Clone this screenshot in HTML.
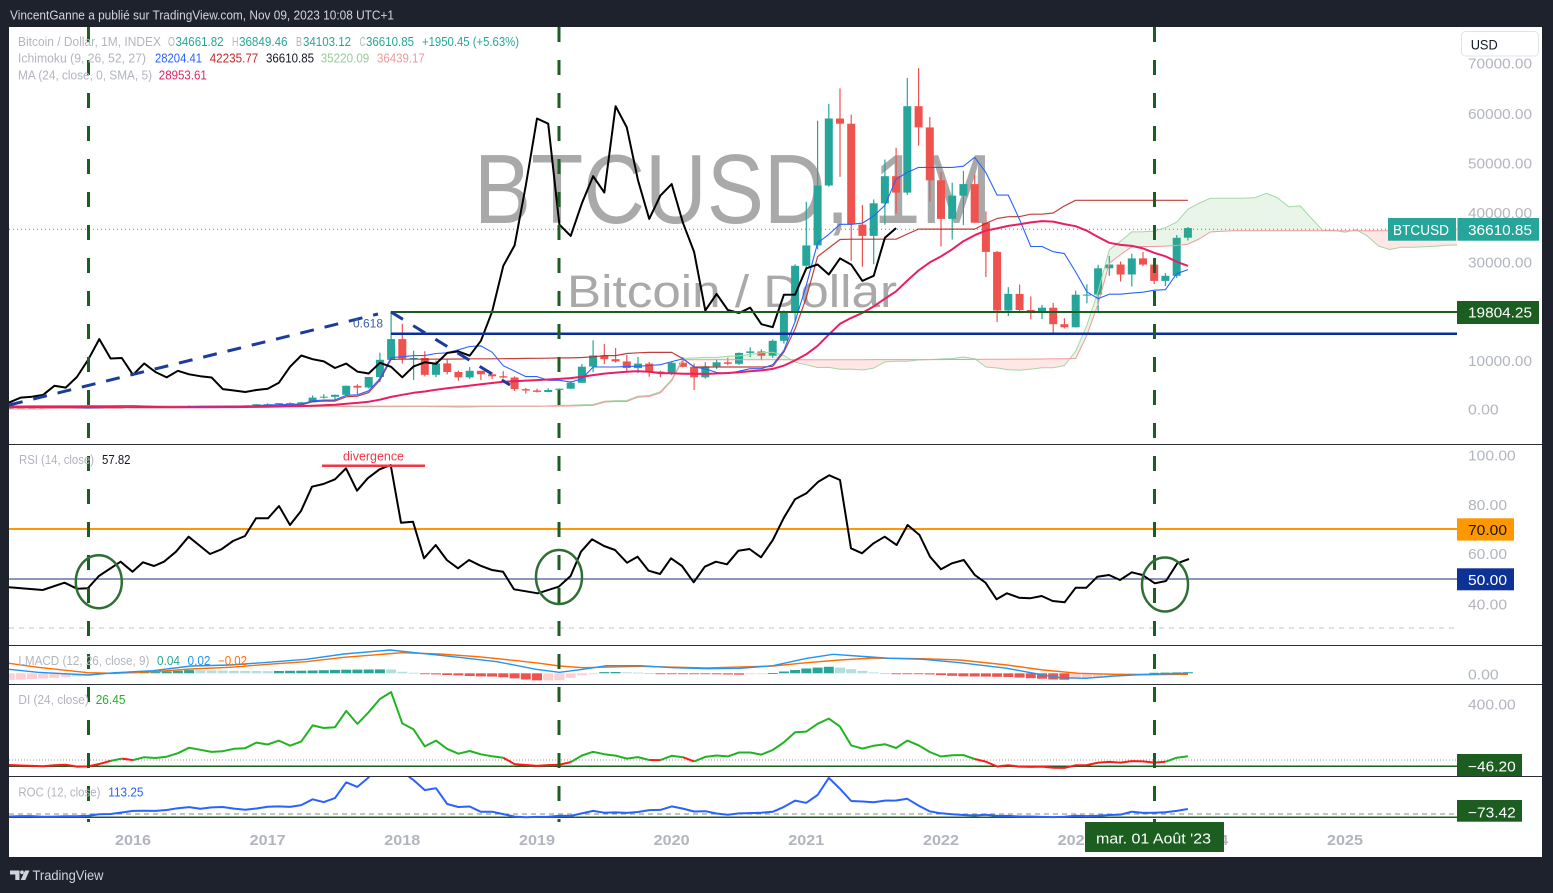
<!DOCTYPE html>
<html><head><meta charset="utf-8"><style>html,body{margin:0;padding:0;background:#1e222d;}svg{display:block;}</style></head>
<body>
<svg id="root" width="1553" height="893" viewBox="0 0 1553 893" xmlns="http://www.w3.org/2000/svg" font-family="'Liberation Sans', Arial, sans-serif">
<defs>
<clipPath id="cp"><rect x="9" y="27" width="1448" height="417"/></clipPath>
<clipPath id="cr"><rect x="9" y="445" width="1448" height="200"/></clipPath>
<clipPath id="cm"><rect x="9" y="646" width="1448" height="38"/></clipPath>
<clipPath id="cd"><rect x="9" y="685" width="1448" height="91"/></clipPath>
<clipPath id="co"><rect x="9" y="777" width="1448" height="45"/></clipPath>
</defs>
<rect width="1553" height="893" fill="#1e222d"/>
<rect x="9" y="27" width="1533" height="830" fill="#ffffff"/>
<text x="10" y="19.3" font-size="13" fill="#d1d4dc" textLength="384" lengthAdjust="spacingAndGlyphs">VincentGanne a publié sur TradingView.com, Nov 09, 2023 10:08 UTC+1</text>

<!-- watermark -->
<text x="474" y="223" font-size="98" fill="#a9a9a9" textLength="518" lengthAdjust="spacingAndGlyphs">BTCUSD, 1M</text>
<text x="567" y="307" font-size="45" fill="#a9a9a9" textLength="330" lengthAdjust="spacingAndGlyphs">Bitcoin / Dollar</text>

<!-- price pane -->
<g clip-path="url(#cp)">
<line x1="9" y1="229.3" x2="1457" y2="229.3" stroke="#26a69a" stroke-width="1" stroke-dasharray="1 3"/>
<g id="pp"></g>
<line x1="391" y1="312" x2="1457" y2="312" stroke="#1b5e20" stroke-width="2"/>
<line x1="391" y1="333.7" x2="1457" y2="333.7" stroke="#0c2d9c" stroke-width="2.5"/>
<line x1="9" y1="405" x2="378" y2="314" stroke="#1a3c9a" stroke-width="3" stroke-dasharray="14 11"/>
<line x1="391" y1="312" x2="510" y2="385" stroke="#1a3c9a" stroke-width="3" stroke-dasharray="14 12"/>
<text x="353" y="327.5" font-size="12" fill="#3b5bb0" textLength="30" lengthAdjust="spacingAndGlyphs">0.618</text>
</g>

<!-- RSI pane -->
<g clip-path="url(#cr)">
<line x1="9" y1="529" x2="1457" y2="529" stroke="#ff9800" stroke-width="2"/>
<line x1="9" y1="579" x2="1457" y2="579" stroke="#1a2f80" stroke-width="1"/>
<line x1="9" y1="628" x2="1457" y2="628" stroke="#c4c4c4" stroke-width="1" stroke-dasharray="5 5"/>
<polyline fill="none" stroke="#000" stroke-width="2" stroke-linejoin="round" points="9,587.3 42.7,590 64.5,582.7 77,588.7 87.8,588.3 98.9,576 120.6,561.7 132.5,571.7 143,562.3 154,566 164,561.7 176,551.7 188.6,536.7 210,554 221.4,549.3 233,541 245,536 256,518.3 268,518.3 279,506 290,525 301,511 312,486.7 323.4,484 335,479.3 346,468.3 357,490.7 367.7,478.3 379.6,469.3 390.7,465 401,522.7 413,521.7 424,558.3 435.7,545 446.8,560 458,568.3 469,560 480.4,565.7 492,570 503,571.7 514,589.3 537.8,593.3 558.7,586.7 570.6,576 581,551.7 592,539.3 604,546 615,550 627,562.7 637.6,556.7 648.6,570.7 660,574 671,558.3 682,566 693.7,582.3 704.8,566.7 715.9,561.7 727,564.3 738.4,550.7 749.5,549 761,557.3 772.8,540 783.9,517.7 795,499.3 806.4,493.3 818.3,481.7 829.3,475.3 840,480 851,548.3 862,553.3 873.6,543.3 884.7,536.7 896.6,545 907.6,525 919.5,535 930,556.7 941,569.3 952,563.3 963.8,560 974.8,575 985.5,582.7 996.6,599.3 1007,593.3 1019,597.7 1030,598.3 1041.7,596 1052.7,601 1064.6,602.3 1075.7,587.7 1086.4,587.7 1097.4,576.7 1109,575 1120,580 1131.8,572.3 1142.5,575 1154.8,583.3 1166,581 1177.3,563.3 1189,559"/>
</g>
<g clip-path="url(#cm)"><g id="mp"></g></g>
<g clip-path="url(#cd)">
<line x1="9" y1="760" x2="1457" y2="760" stroke="#999" stroke-width="1" stroke-dasharray="1 2"/>
<line x1="9" y1="766.3" x2="1457" y2="766.3" stroke="#1b5e20" stroke-width="1.5"/>
<g id="dp"></g></g>
<g clip-path="url(#co)">
<line x1="9" y1="814" x2="1457" y2="814" stroke="#888" stroke-width="1" stroke-dasharray="5 4"/>
<line x1="9" y1="817.3" x2="1457" y2="817.3" stroke="#1b5e20" stroke-width="1.5"/>
<g id="op"></g></g>

<!-- separators -->
<g stroke="#2a2e39" stroke-width="1">
<line x1="9" y1="444.5" x2="1542" y2="444.5"/>
<line x1="9" y1="645.5" x2="1542" y2="645.5"/>
<line x1="9" y1="684.5" x2="1542" y2="684.5"/>
<line x1="9" y1="776.5" x2="1542" y2="776.5"/>
</g>

<!-- vertical dashed lines -->
<g stroke="#1b5e20" stroke-width="3" stroke-dasharray="15 18">
<line x1="88.5" y1="27" x2="88.5" y2="822"/>
<line x1="559" y1="27" x2="559" y2="822"/>
<line x1="1154.5" y1="27" x2="1154.5" y2="822"/>
</g>

<!-- circles & divergence -->
<g fill="none" stroke="#2f6f35" stroke-width="2.5">
<ellipse cx="98.8" cy="581.7" rx="23" ry="26.5"/>
<ellipse cx="559" cy="577" rx="23" ry="27"/>
<ellipse cx="1165" cy="584.5" rx="23" ry="27"/>
</g>
<line x1="322" y1="465.7" x2="425" y2="465.7" stroke="#f23645" stroke-width="2.5"/>
<text x="343" y="460.7" font-size="12.5" fill="#f23645" textLength="61" lengthAdjust="spacingAndGlyphs">divergence</text>

<!-- legends -->
<g font-size="12.5">
<text x="18" y="46" fill="#b2b5be" textLength="143" lengthAdjust="spacingAndGlyphs">Bitcoin / Dollar, 1M, INDEX</text>
<text x="168" y="46" fill="#b2b5be" textLength="7" lengthAdjust="spacingAndGlyphs">O</text>
<text x="175.5" y="46" fill="#26a69a" textLength="48" lengthAdjust="spacingAndGlyphs">34661.82</text>
<text x="232" y="46" fill="#b2b5be" textLength="6.5" lengthAdjust="spacingAndGlyphs">H</text>
<text x="239" y="46" fill="#26a69a" textLength="48.5" lengthAdjust="spacingAndGlyphs">36849.46</text>
<text x="296" y="46" fill="#b2b5be" textLength="6" lengthAdjust="spacingAndGlyphs">B</text>
<text x="303" y="46" fill="#26a69a" textLength="48" lengthAdjust="spacingAndGlyphs">34103.12</text>
<text x="359.5" y="46" fill="#b2b5be" textLength="6" lengthAdjust="spacingAndGlyphs">C</text>
<text x="366" y="46" fill="#26a69a" textLength="48" lengthAdjust="spacingAndGlyphs">36610.85</text>
<text x="422" y="46" fill="#26a69a" textLength="97" lengthAdjust="spacingAndGlyphs">+1950.45 (+5.63%)</text>

<text x="18" y="62.7" fill="#b2b5be" textLength="128" lengthAdjust="spacingAndGlyphs">Ichimoku (9, 26, 52, 27)</text>
<text x="155" y="62.7" fill="#2962ff" textLength="47" lengthAdjust="spacingAndGlyphs">28204.41</text>
<text x="209.7" y="62.7" fill="#c62828" textLength="48.6" lengthAdjust="spacingAndGlyphs">42235.77</text>
<text x="266" y="62.7" fill="#131722" textLength="48" lengthAdjust="spacingAndGlyphs">36610.85</text>
<text x="320.7" y="62.7" fill="#96cc98" textLength="48.6" lengthAdjust="spacingAndGlyphs">35220.09</text>
<text x="377" y="62.7" fill="#ef9a9a" textLength="47.8" lengthAdjust="spacingAndGlyphs">36439.17</text>

<text x="18" y="79.3" fill="#b2b5be" textLength="134" lengthAdjust="spacingAndGlyphs">MA (24, close, 0, SMA, 5)</text>
<text x="158.8" y="79.3" fill="#e91e63" textLength="48" lengthAdjust="spacingAndGlyphs">28953.61</text>

<text x="19" y="464" fill="#b2b5be" textLength="75" lengthAdjust="spacingAndGlyphs">RSI (14, close)</text>
<text x="102" y="464" fill="#131722" textLength="28.5" lengthAdjust="spacingAndGlyphs">57.82</text>

<text x="18.4" y="665" fill="#b2b5be" textLength="131" lengthAdjust="spacingAndGlyphs">LMACD (12, 26, close, 9)</text>
<text x="157" y="665" fill="#26a69a" textLength="23" lengthAdjust="spacingAndGlyphs">0.04</text>
<text x="187.5" y="665" fill="#2196f3" textLength="23" lengthAdjust="spacingAndGlyphs">0.02</text>
<text x="218" y="665" fill="#ff6d00" textLength="29" lengthAdjust="spacingAndGlyphs">−0.02</text>

<text x="18.4" y="704" fill="#b2b5be" textLength="70.4" lengthAdjust="spacingAndGlyphs">DI (24, close)</text>
<text x="95.7" y="704" fill="#22b322" textLength="29.8" lengthAdjust="spacingAndGlyphs">26.45</text>

<text x="18.4" y="796.5" fill="#b2b5be" textLength="82" lengthAdjust="spacingAndGlyphs">ROC (12, close)</text>
<text x="108.3" y="796.5" fill="#2962ff" textLength="35.2" lengthAdjust="spacingAndGlyphs">113.25</text>
</g>

<!-- price axis -->
<g font-size="14.5" fill="#b2b5be">
<text x="1468" y="68.5" textLength="64" lengthAdjust="spacingAndGlyphs">70000.00</text>
<text x="1468" y="119" textLength="64" lengthAdjust="spacingAndGlyphs">60000.00</text>
<text x="1468" y="168.5" textLength="64" lengthAdjust="spacingAndGlyphs">50000.00</text>
<text x="1468" y="218" textLength="64" lengthAdjust="spacingAndGlyphs">40000.00</text>
<text x="1468" y="267.5" textLength="64" lengthAdjust="spacingAndGlyphs">30000.00</text>
<text x="1468" y="366" textLength="64" lengthAdjust="spacingAndGlyphs">10000.00</text>
<text x="1468" y="414.3" textLength="30.7" lengthAdjust="spacingAndGlyphs">0.00</text>
<text x="1468" y="460.7" textLength="47.7" lengthAdjust="spacingAndGlyphs">100.00</text>
<text x="1468" y="510" textLength="39" lengthAdjust="spacingAndGlyphs">80.00</text>
<text x="1468" y="559" textLength="39" lengthAdjust="spacingAndGlyphs">60.00</text>
<text x="1468" y="609.3" textLength="39" lengthAdjust="spacingAndGlyphs">40.00</text>
<text x="1468" y="679.3" textLength="30.7" lengthAdjust="spacingAndGlyphs">0.00</text>
<text x="1468" y="709.3" textLength="47.7" lengthAdjust="spacingAndGlyphs">400.00</text>
</g>
<rect x="1461.5" y="31.5" width="77" height="24.5" rx="4" fill="#fff" stroke="#e0e3eb"/>
<text x="1470.7" y="49.3" font-size="14" fill="#131722" textLength="27" lengthAdjust="spacingAndGlyphs">USD</text>

<g font-size="14.5">
<rect x="1388" y="218" width="68" height="22.7" fill="#26a69a"/>
<text x="1393" y="235" fill="#fff" textLength="56" lengthAdjust="spacingAndGlyphs">BTCUSD</text>
<rect x="1457.5" y="218" width="81.5" height="22.7" fill="#26a69a"/>
<text x="1468" y="235" fill="#fff" textLength="64" lengthAdjust="spacingAndGlyphs">36610.85</text>
<rect x="1457" y="301" width="82" height="23" fill="#1b5e20"/>
<text x="1468" y="317.7" fill="#fff" textLength="64" lengthAdjust="spacingAndGlyphs">19804.25</text>
<rect x="1457" y="518.3" width="57" height="22.3" fill="#ff9800"/>
<text x="1468" y="535" fill="#131722" textLength="39" lengthAdjust="spacingAndGlyphs">70.00</text>
<rect x="1457" y="568.3" width="57" height="22" fill="#0d3295"/>
<text x="1468" y="585" fill="#fff" textLength="39" lengthAdjust="spacingAndGlyphs">50.00</text>
<rect x="1457" y="754" width="65" height="22" fill="#1b5e20"/>
<text x="1468" y="771.5" fill="#fff" textLength="47.7" lengthAdjust="spacingAndGlyphs">−46.20</text>
<rect x="1457" y="800" width="65" height="21.7" fill="#1b5e20"/>
<text x="1468" y="817.5" fill="#fff" textLength="47.7" lengthAdjust="spacingAndGlyphs">−73.42</text>
</g>

<!-- time axis -->
<g font-size="15" font-weight="bold" fill="#b2b5be" text-anchor="middle">
<text x="133" y="845" textLength="36" lengthAdjust="spacingAndGlyphs">2016</text>
<text x="267.7" y="845" textLength="36" lengthAdjust="spacingAndGlyphs">2017</text>
<text x="402.3" y="845" textLength="36" lengthAdjust="spacingAndGlyphs">2018</text>
<text x="537" y="845" textLength="36" lengthAdjust="spacingAndGlyphs">2019</text>
<text x="671.7" y="845" textLength="36" lengthAdjust="spacingAndGlyphs">2020</text>
<text x="806.3" y="845" textLength="36" lengthAdjust="spacingAndGlyphs">2021</text>
<text x="941" y="845" textLength="36" lengthAdjust="spacingAndGlyphs">2022</text>
<text x="1075.7" y="845" textLength="36" lengthAdjust="spacingAndGlyphs">2023</text>
<text x="1210.3" y="845" textLength="36" lengthAdjust="spacingAndGlyphs">2024</text>
<text x="1345" y="845" textLength="36" lengthAdjust="spacingAndGlyphs">2025</text>
</g>
<rect x="1085" y="822" width="139" height="30" fill="#1b5e20"/>
<text x="1096" y="843.3" font-size="15" fill="#fff" textLength="115" lengthAdjust="spacingAndGlyphs">mar. 01 Août '23</text>

<!-- bottom logo -->
<g fill="#d1d4dc">
<path d="M10 870.5h9.5v9.5h-4.2v-5.5h-5.3z"/>
<circle cx="22" cy="872.3" r="1.9"/>
<path d="M25 870.5h4.5l-4.2 9.5h-4.6z"/>
</g>
<text x="32.5" y="880" font-size="14" fill="#d1d4dc" textLength="71" lengthAdjust="spacingAndGlyphs">TradingView</text>
</svg>
<script>
(function(){
var pre=[0.5,0.9,0.8,3.5,8.7,16,13.5,8.2,5.1,3.2,3,4.7,5.5,4.9,4.9,5,5.2,6.7,9.4,10.2,12.4,11.2,12.6,13.5];
var D=[
[13.3,20.8,12.9,20.4],[20.4,33.8,19.1,33.4],[33.4,95,33,93],[93,266,50,139],[139,140,79,128],[128,130,88,97],[97,111,65,106],[106,140,102,141],[141,145,110,133],[133,215,110,204],[204,1160,196,1130],[1130,1165,400,732],
[732,1000,730,830],[830,860,400,573],[573,700,440,457],[457,550,340,447],[447,630,420,627],[627,680,540,640],[640,660,570,586],[586,600,440,480],[480,500,370,388],[388,420,275,338],[338,460,315,378],[378,387,300,320],
[320,320,166,217],[217,265,212,254],[254,300,236,244],[244,261,214,236],[236,248,228,230],[230,268,219,263],[263,315,253,284],[284,286,198,230],[230,262,225,236],[236,334,235,314],[314,502,298,377],[377,465,350,430],
[430,462,354,368],[368,448,365,437],[437,440,394,416],[416,467,415,448],[448,550,436,531],[531,778,527,673],[673,704,600,624],[624,624,535,575],[575,628,570,609],[609,730,604,698],[698,755,690,742],[742,975,738,963],
[963,1150,750,970],[970,1200,918,1190],[1190,1350,890,1080],[1080,1440,1060,1350],[1350,2760,1350,2300],[2300,3000,2100,2480],[2480,2930,1830,2875],[2875,4750,2650,4700],[4700,5000,2970,4340],[4340,6470,4150,6470],[6470,11400,5500,9950],[9950,19800,9900,14150],
[14150,17250,9200,10220],[10220,11800,5900,10330],[10330,11700,6600,6930],[6930,9800,6430,9240],[9240,10000,7000,7490],[7490,7780,5750,6400],[6400,8500,6070,7730],[7730,7770,5880,7030],[7030,7420,6100,6630],[6630,7680,6200,6370],[6370,6620,3650,4020],[4020,4230,3130,3740],
[3740,4100,3350,3450],[3450,4200,3390,3850],[3850,4140,3720,4100],[4100,5630,4050,5320],[5320,9100,5300,8570],[8570,13880,7450,10820],[10820,13180,9080,10080],[10080,12340,9400,9630],[9630,10950,7710,8290],[8290,10540,7300,9200],[9200,9520,6520,7570],[7570,7750,6430,7190],
[7190,9580,6850,9350],[9350,10500,8450,8540],[8540,9190,3850,6420],[6420,9470,6150,8630],[8630,10080,8120,9450],[9450,10390,8850,9140],[9140,11450,8900,11350],[11350,12480,10520,11660],[11660,12090,9880,10780],[10780,14100,10370,13800],[13800,19930,13220,19700],[19700,29300,17570,28990],
[28990,41950,28130,33110],[33110,58350,32300,45240],[45240,61780,45000,58800],[58800,64900,47000,57750],[57750,59600,30000,37330],[37330,41300,28800,35040],[35040,42400,29300,41630],[41630,50500,37300,47130],[47130,52900,39600,43820],[43820,67000,43300,61300],[61300,69000,53300,57000],[57000,59100,42000,46300],
[46300,47990,32900,38480],[38480,45800,34300,43190],[43190,48200,37200,45530],[45530,47450,37700,37710],[37710,40000,26700,31800],[31800,31980,17600,19930],[19930,24650,18800,23300],[23300,25200,19550,20050],[20050,22800,18150,19430],[19430,21100,18200,20500],[20500,21450,15480,17170],[17170,18390,16300,16550],
[16550,23950,16500,23140],[23140,25250,21400,23150],[23150,29200,19570,28480],[28480,31000,26950,29250],[29250,29850,25800,27220],[27220,31430,24800,30480],[30480,31800,28900,29230],[29230,30200,25300,25940],[25940,27500,24900,26970],[26970,35200,26550,34660],[34661.82,36849.46,34103.12,36610.85]
];
var O=[],H=[],L=[],C=[],p=0.3,i,k,j;
for(k=0;k<pre.length;k++){var c=pre[k];O.push(p);C.push(c);H.push(Math.max(p,c)*1.1);L.push(Math.min(p,c)*0.9);p=c;}
for(k=0;k<D.length;k++){O.push(D[k][0]);H.push(D[k][1]);L.push(D[k][2]);C.push(D[k][3]);}
var N=C.length;
function X(i){return 133+(i-60)*11.2222;}
function YP(v){return 409-v*0.00494;}
function hh(i,n){var m=-1e18;for(var q=Math.max(0,i-n+1);q<=i;q++)if(H[q]>m)m=H[q];return m;}
function ll(i,n){var m=1e18;for(var q=Math.max(0,i-n+1);q<=i;q++)if(L[q]<m)m=L[q];return m;}
function P(pts){var s='';for(var q=0;q<pts.length;q++){s+=(q?'L':'M')+pts[q][0].toFixed(1)+','+pts[q][1].toFixed(1);}return s;}
function line(pts,col,w,extra){return '<path d="'+P(pts)+'" fill="none" stroke="'+col+'" stroke-width="'+w+'" stroke-linejoin="round"'+(extra||'')+'/>';}
var s='';
for(i=48;i<N;i++){
 var x=X(i),o=O[i],h=H[i],l=L[i],cc=C[i],up=cc>=o,col=up?'#26a69a':'#ef5350';
 s+='<line x1="'+x.toFixed(1)+'" y1="'+YP(h).toFixed(1)+'" x2="'+x.toFixed(1)+'" y2="'+YP(l).toFixed(1)+'" stroke="'+col+'" stroke-width="1.2"/>';
 var yt=Math.min(YP(o),YP(cc)),hb=Math.max(1,Math.abs(YP(o)-YP(cc)));
 s+='<rect x="'+(x-4).toFixed(1)+'" y="'+yt.toFixed(1)+'" width="8" height="'+hb.toFixed(1)+'" fill="'+col+'"/>';
}
var TK=[],KJ=[],SA=[],SB=[];
for(i=0;i<N;i++){TK[i]=(hh(i,9)+ll(i,9))/2;KJ[i]=(hh(i,26)+ll(i,26))/2;SA[i+26]=(TK[i]+KJ[i])/2;SB[i+26]=(hh(i,52)+ll(i,52))/2;}
var runs=[],cur=null,px,pa,pd,started=false;
function pushPt(x,a,b,sg){if(!cur||cur.sg!==sg){cur={sg:sg,A:[],B:[]};runs.push(cur);}cur.A.push([x,a]);cur.B.push([x,b]);}
for(j=47;j<=N+25;j++){
 if(SA[j]===undefined)continue;
 var a=SA[j],b=SB[j],xx=X(j),d=a-b;
 if(started&&pd*d<0){var f=pd/(pd-d),xc=px+f*(xx-px),vc=pa+f*(a-pa);cur.A.push([xc,vc]);cur.B.push([xc,vc]);cur=null;pushPt(xc,vc,vc,d>0);}
 pushPt(xx,a,b,(d===0&&started)?(pd>0):(d>0));
 px=xx;pa=a;pd=(d===0?pd:d);started=true;
}
for(k=0;k<runs.length;k++){
 var r=runs[k],pts=[];
 for(j=0;j<r.A.length;j++)pts.push([r.A[j][0],YP(r.A[j][1])]);
 for(j=r.B.length-1;j>=0;j--)pts.push([r.B[j][0],YP(r.B[j][1])]);
 s+='<path d="'+P(pts)+'Z" fill="'+(r.sg?'rgba(76,175,80,0.13)':'rgba(244,67,54,0.13)')+'"/>';
}
var pa1=[],pb1=[];
for(j=47;j<=N+25;j++){if(SA[j]===undefined)continue;pa1.push([X(j),YP(SA[j])]);pb1.push([X(j),YP(SB[j])]);}
s+=line(pa1,'#a5d6a7',1);s+=line(pb1,'#ef9a9a',1);
var tk=[],kj=[];
for(i=48;i<N;i++){tk.push([X(i),YP(TK[i])]);kj.push([X(i),YP(KJ[i])]);}
s+=line(kj,'#b71c1c',1.2,' stroke-opacity="0.85"');
s+=line(tk,'#2962ff',1.1);
var ch=[];
for(i=73;i<N;i++){ch.push([X(i-26),YP(C[i])]);}
s+=line(ch,'#000000',2);
var MA=[];
for(i=0;i<N;i++){if(i<23){MA[i]=null;continue;}var sm=0;for(k=i-23;k<=i;k++)sm+=C[k];MA[i]=sm/24;}
var ma=[];for(i=48;i<N;i++)ma.push([X(i),YP(MA[i])]);
s+=line(ma,'#e91e63',2);
document.getElementById('pp').innerHTML=s;

/* LMACD (pixel coords) */
var MP=[[9,669.3],[38,672.3],[88,675],[115,672.7],[153,670.7],[191,666],[230,665],[268,662.3],[306,659.3],[344,654],[390,650],[421,653.3],[459,657.3],[497,661.7],[536,669.3],[559.5,672.3],[583,669.3],[606.7,665.7],[640,665.7],[673,667.7],[706.7,668.7],[740,668.3],[773,665.7],[806.7,658.3],[833.3,654.3],[856.7,656],[890,658.3],[923,659.3],[960,662.7],[1007,668.3],[1043,675],[1060.7,677.7],[1085.7,678.3],[1114,676],[1150,674.3],[1188,673.3]];
var SP=[[9,663.3],[38,667.3],[88,672.7],[115,673.3],[153,671.7],[191,669],[230,667.3],[268,664.3],[306,661.7],[344,657.3],[402,652.7],[440,654],[478,656.7],[517,660.7],[540,663.3],[559.5,666],[583,667.7],[640,666.3],[706.7,668],[773,666],[806.7,662.7],[840,660],[873,658],[923,658.7],[960,660],[1007,665],[1043,670],[1078.6,673.3],[1114,674.3],[1150,674.7],[1188,674.3]];
function itp(a,x){if(x<=a[0][0])return a[0][1];for(var q=1;q<a.length;q++){if(x<=a[q][0]){var t=(x-a[q-1][0])/(a[q][0]-a[q-1][0]);return a[q-1][1]+t*(a[q][1]-a[q-1][1]);}}return a[a.length-1][1];}
var m='',hprev=null;
for(i=48;i<N;i++){
 var xm=X(i);
 var hv=(itp(SP,xm)-itp(MP,xm))*1.1,hc;
 if(hprev===null)hprev=hv;
 if(hv>=0)hc=hv>=hprev?'#26a69a':'#b2dfdb';else hc=hv<hprev?'#ef5350':'#ffcdd2';
 var y0=hv>=0?673.3-hv:673.3,hh2=Math.max(0.9,Math.abs(hv));
 m+='<rect x="'+(xm-5).toFixed(1)+'" y="'+y0.toFixed(1)+'" width="10" height="'+hh2.toFixed(1)+'" fill="'+hc+'"/>';
 hprev=hv;
}
m+=line(SP,'#ff6d00',1.4);m+=line(MP,'#2196f3',1.4);
document.getElementById('mp').innerHTML=m;

var dv='',run=[],rc=null;
function YD(v){return 760-v*0.1425;}
for(i=48;i<N;i++){
 var di=(C[i]/MA[i]-1)*100,col2=di>=0?'#22b322':'#ff1a1a',pt=[X(i),YD(di)];
 if(rc===null){rc=col2;run=[pt];continue;}
 if(col2!==rc){dv+=line(run,rc,2);var last=run[run.length-1];run=[last,pt];rc=col2;}else run.push(pt);
}
dv+=line(run,rc,2);
document.getElementById('dp').innerHTML=dv;

var ro=[];for(i=48;i<N;i++){var rv=(C[i]/C[i-12]-1)*100;ro.push([X(i),814-rv*0.0442]);}
document.getElementById('op').innerHTML=line(ro,'#2962ff',2);
})();
</script>
</body></html>
